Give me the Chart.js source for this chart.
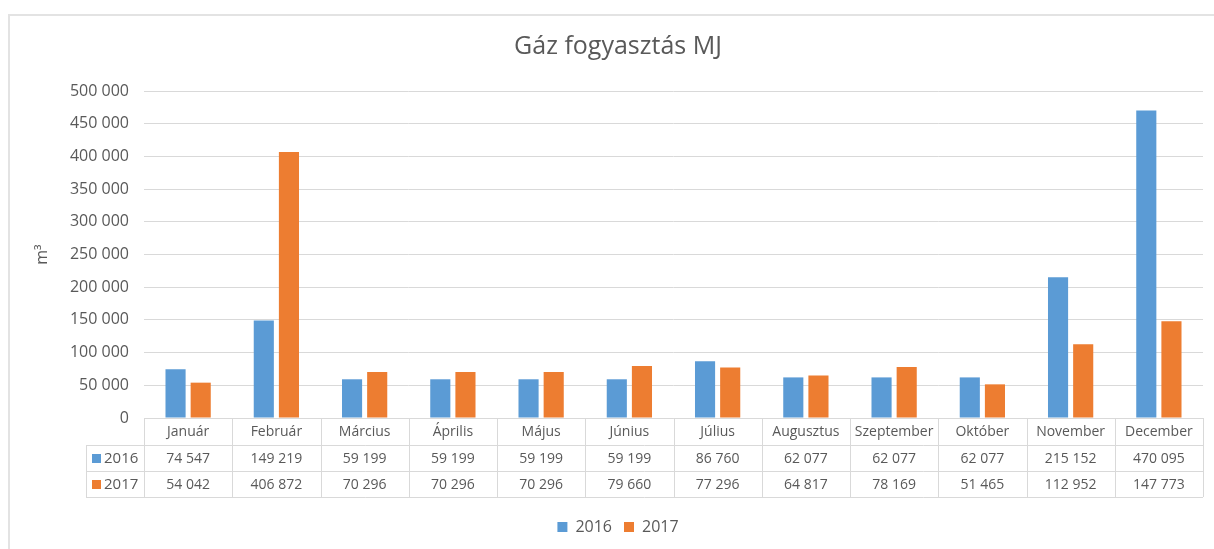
<!DOCTYPE html>
<html>
<head>
<meta charset="utf-8">
<title>Gáz fogyasztás MJ</title>
<script src="https://cdn.jsdelivr.net/npm/chart.js@4"></script>
<style>
  html, body { margin: 0; padding: 0; background: #fff; }
  #wrap { position: relative; width: 1214px; height: 549px; }
</style>
</head>
<body>
<div id="wrap"><canvas id="gas-chart" width="1214" height="549"></canvas></div>
<script>
// Chart data
const months = ["Január", "Február", "Március", "Április", "Május", "Június", "Július", "Augusztus", "Szeptember", "Október", "November", "December"];
const values2016 = [74547, 149219, 59199, 59199, 59199, 59199, 86760, 62077, 62077, 62077, 215152, 470095];
const values2017 = [54042, 406872, 70296, 70296, 70296, 79660, 77296, 64817, 78169, 51465, 112952, 147773];
const seriesNames = ["2016", "2017"];
const yTicks = [0, 50000, 100000, 150000, 200000, 250000, 300000, 350000, 400000, 450000, 500000];

const BLUE = "#5B9BD5";
const ORANGE = "#ED7D31";
const TEXT = "#595959";
const LINE = "#d9d9d9";
const FONT = "'Open Sans', 'Liberation Sans', sans-serif";

const fmt = (n) => String(n).replace(/\B(?=(\d{3})+(?!\d))/g, " ");

// Frame around the chart (left and top edges like the original)
const framePlugin = {
  id: "frame",
  beforeDraw(chart) {
    const ctx = chart.ctx;
    ctx.save();
    ctx.strokeStyle = "#e3e3e3";
    ctx.lineWidth = 2;
    ctx.beginPath();
    ctx.moveTo(9, chart.height);
    ctx.lineTo(9, 15);
    ctx.lineTo(chart.width, 15);
    ctx.stroke();
    ctx.restore();
  },
};

// Data table under the x axis
const tablePlugin = {
  id: "dataTable",
  afterDraw(chart) {
    const ctx = chart.ctx;
    const x = chart.scales.x;
    const area = chart.chartArea;
    const colW = (area.right - area.left) / months.length;
    const rows = [area.bottom, area.bottom + 27, area.bottom + 53, area.bottom + 79];
    const legendLeft = area.left - 58;

    ctx.save();
    ctx.strokeStyle = LINE;
    ctx.lineWidth = 1;
    ctx.beginPath();
    // horizontal lines
    ctx.moveTo(area.left, rows[0] + 0.5);
    ctx.lineTo(area.right, rows[0] + 0.5);
    for (let r = 1; r < rows.length; r++) {
      ctx.moveTo(legendLeft, rows[r] + 0.5);
      ctx.lineTo(area.right, rows[r] + 0.5);
    }
    // vertical lines
    ctx.moveTo(legendLeft + 0.5, rows[1]);
    ctx.lineTo(legendLeft + 0.5, rows[3]);
    for (let i = 0; i <= months.length; i++) {
      const px = Math.round(area.left + i * colW) + 0.5;
      ctx.moveTo(px, rows[0]);
      ctx.lineTo(px, rows[3]);
    }
    ctx.stroke();

    ctx.fillStyle = TEXT;
    ctx.font = "14px " + FONT;
    ctx.textAlign = "center";
    ctx.textBaseline = "middle";
    months.forEach((m, i) => {
      const cx = x.getPixelForValue(i);
      ctx.fillText(m, cx, (rows[0] + rows[1]) / 2 + 1);
      ctx.fillText(fmt(values2016[i]), cx, (rows[1] + rows[2]) / 2 + 1);
      ctx.fillText(fmt(values2017[i]), cx, (rows[2] + rows[3]) / 2 + 1);
    });

    // series keys
    const keys = [BLUE, ORANGE];
    ctx.textAlign = "left";
    ctx.font = "15px " + FONT;
    keys.forEach((c, k) => {
      const cy = (rows[k + 1] + rows[k + 2]) / 2;
      ctx.fillStyle = c;
      ctx.fillRect(legendLeft + 6, cy - 4, 9, 9);
      ctx.fillStyle = TEXT;
      ctx.fillText(seriesNames[k], legendLeft + 18, cy + 1);
    });
    ctx.restore();
  },
};

const ctx = document.getElementById("gas-chart").getContext("2d");
new Chart(ctx, {
  type: "bar",
  data: {
    labels: months,
    datasets: [
      { label: seriesNames[0], data: values2016, backgroundColor: BLUE },
      { label: seriesNames[1], data: values2017, backgroundColor: ORANGE },
    ],
  },
  options: {
    responsive: false,
    animation: false,
    layout: { padding: { left: 33, right: 11, top: 14, bottom: 4 } },
    datasets: {
      bar: { categoryPercentage: 0.57, barPercentage: 0.8 },
    },
    plugins: {
      title: {
        display: true,
        text: "Gáz fogyasztás MJ",
        color: TEXT,
        font: { family: FONT, size: 25, weight: "normal" },
        padding: { top: 18, bottom: 29 },
      },
      legend: {
        position: "bottom",
        labels: {
          color: TEXT,
          font: { family: FONT, size: 16 },
          boxWidth: 10,
          boxHeight: 10,
          padding: 12,
        },
      },
      tooltip: { enabled: false },
    },
    scales: {
      x: {
        grid: { display: false },
        border: { display: false },
        ticks: { display: false },
        afterFit: (scale) => { scale.height = 89; },
      },
      y: {
        min: 0,
        max: 500000,
        afterBuildTicks: (scale) => { scale.ticks = yTicks.map((v) => ({ value: v })); },
        grid: { color: LINE, drawTicks: false },
        border: { display: false },
        ticks: {
          color: TEXT,
          font: { family: FONT, size: 16 },
          padding: 15,
          callback: (v) => fmt(v),
        },
        title: {
          display: true,
          text: "m³",
          color: TEXT,
          font: { family: FONT, size: 16 },
          padding: { top: 0, bottom: 0 },
        },
        afterFit: (scale) => { scale.width = 111; },
      },
    },
  },
  plugins: [framePlugin, tablePlugin],
});
</script>
</body>
</html>
